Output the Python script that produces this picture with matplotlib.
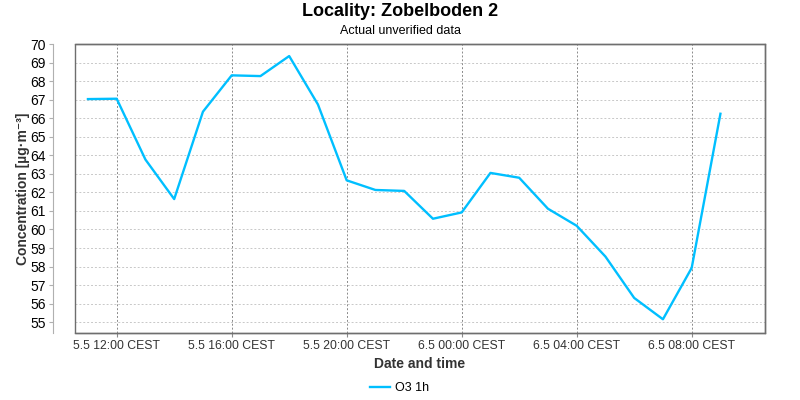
import matplotlib
matplotlib.use("Agg")
import matplotlib.pyplot as plt
from matplotlib.patches import Rectangle

plt.rcParams['font.family'] = ['Liberation Sans', 'DejaVu Sans']

# Hours since 5.5 00:00
hours = list(range(11, 34))
o3 = [67.03, 67.05, 63.77, 61.64, 66.35, 68.31, 68.27, 69.35, 66.74, 62.65,
      62.13, 62.08, 60.58, 60.92, 63.05, 62.79, 61.12, 60.20, 58.54, 56.31,
      55.16, 57.93, 66.24]

tick_hours = [12, 16, 20, 24, 28, 32]
tick_labels = ["5.5 12:00 CEST", "5.5 16:00 CEST", "5.5 20:00 CEST",
               "6.5 00:00 CEST", "6.5 04:00 CEST", "6.5 08:00 CEST"]
y_ticks = list(range(55, 71))

title = "Locality: Zobelboden 2"
subtitle = "Actual unverified data"
series_name = "O3 1h"

fig = plt.figure(figsize=(8, 4), dpi=100)
ax = fig.add_axes([75/800, 1-333/400, 690/800, 289/400])

ax.plot(hours, o3, color='#00BFFF', lw=1.7, label=series_name, zorder=3)

ax.set_xlim(10.55, 34.55)
ax.set_ylim(54.42, 70)

ax.set_xticks(tick_hours)
ax.set_xticklabels(tick_labels, fontsize=8.8, color='#333333')
ax.set_yticks(y_ticks)
ax.set_yticklabels([str(v) for v in y_ticks], fontsize=8.8, color='#333333')

# horizontal grid
for v in y_ticks:
    ax.axhline(v, color='#c8c8c8', lw=0.7, ls=(0, (2, 2)), zorder=1)
# vertical grid
for h in tick_hours:
    ax.axvline(h, color='#8a8a8a', lw=0.7, ls=(0, (2, 2)), zorder=1)

for s in ['top', 'right', 'bottom']:
    ax.spines[s].set_color('#6e6e6e')
    ax.spines[s].set_linewidth(1.0)
ax.spines['left'].set_position(('outward', 16))
ax.spines['left'].set_color('#b0b0b0')
ax.spines['left'].set_linewidth(0.8)
ax.add_patch(Rectangle((0, 0), 1, 1, transform=ax.transAxes, fill=False,
                       edgecolor='#6e6e6e', lw=1.0, clip_on=False, zorder=4))

ax.tick_params(axis='y', length=3, color='#b0b0b0', pad=2)
ax.tick_params(axis='x', length=3, color='#8a8a8a', pad=2)

ax.set_ylabel("Concentration [µg·m⁻³]", fontsize=10, fontweight='bold',
              color='#333333', labelpad=0)
ax.set_xlabel("Date and time", fontsize=10, fontweight='bold',
              color='#333333', labelpad=4)

fig.text(0.5, 1-12/400, title, ha='center', va='center', fontsize=13,
         fontweight='bold', color='black')
fig.text(0.5, 1-31/400, subtitle, ha='center', va='center', fontsize=9,
         color='black')

fig.legend(loc='center', bbox_to_anchor=(0.5, 1-388/400), frameon=False,
           fontsize=9, handlelength=1.6, handletextpad=0.4)

fig.savefig("out.png", dpi=100)
